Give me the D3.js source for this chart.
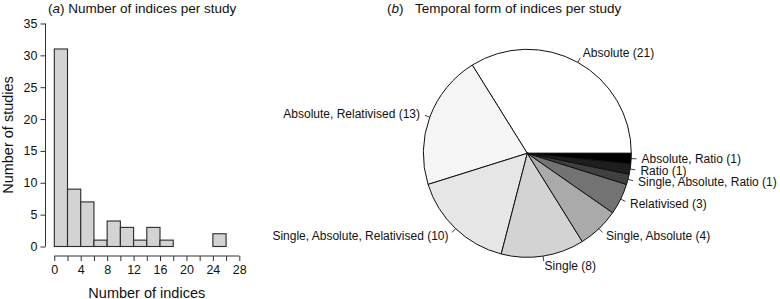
<!DOCTYPE html>
<html>
<head>
<meta charset="utf-8">
<script src="https://cdn.jsdelivr.net/npm/d3@7"></script>
<style>
  body { margin: 0; background: #fff; }
  text { font-family: "Liberation Sans", Arial, sans-serif; fill: #111; }
</style>
</head>
<body>
<div id="chart-area"></div>
<script>
// *********************
// Data
// *********************

// histogram: bins of width 2, starting at 0
const binStarts = [0, 2, 4, 6, 8, 10, 12, 14, 16, 18, 20, 22, 24];
const binCounts = [31, 9, 7, 1, 4, 3, 1, 3, 1, 0, 0, 0, 2];
const xTickValues = [0, 4, 8, 12, 16, 20, 24, 28];
const yTickValues = [0, 5, 10, 15, 20, 25, 30, 35];

// pie
const forms = ["Absolute", "Absolute, Relativised", "Single, Absolute, Relativised",
  "Single", "Single, Absolute", "Relativised", "Single, Absolute, Ratio", "Ratio", "Absolute, Ratio"];
const formCounts = [21, 13, 10, 8, 4, 3, 1, 1, 1];
const formGreys = ["#ffffff", "#f5f5f5", "#e6e6e6", "#d3d3d3", "#aaaaaa", "#737373", "#404040", "#1e1e1e", "#000000"];

// *********************
// SVG
// *********************

const width = 780;
const height = 299;

const svg = d3.select("#chart-area")
	.append("svg")
	.attr("width", width)
	.attr("height", height);

// *********************
// (a) histogram
// *********************

const x = d3.scaleLinear()
	.domain([0, 28])
	.range([54.3, 239.3]);

const y = d3.scaleLinear()
	.domain([0, 35])
	.range([246.5, 23.5]);

// bars
svg.append("g").selectAll("rect")
	.data(binStarts)
	.enter()
	.append("rect")
	.attr("x", d => x(d))
	.attr("y", (d, i) => y(binCounts[i]))
	.attr("width", d => x(d + 2) - x(d))
	.attr("height", (d, i) => y(0) - y(binCounts[i]))
	.attr("fill", "#d3d3d3")
	.attr("stroke", "#2a2a2a")
	.attr("stroke-width", 1.1);

// y axis
const yAxisGroup = svg.append("g")
	.attr("transform", "translate(45.5,0)")
	.call(d3.axisLeft(y).tickValues(yTickValues).tickSize(5).tickPadding(3));

// x axis (major labelled + minor ticks)
const xAxisGroup = svg.append("g")
	.attr("transform", "translate(0,256)")
	.call(d3.axisBottom(x).tickValues(d3.range(0, 29, 2))
		.tickFormat(d => xTickValues.includes(d) ? d : "")
		.tickSize(5).tickPadding(4));

svg.selectAll(".domain").attr("stroke", "#333");
svg.selectAll(".tick line").attr("stroke", "#333");
svg.selectAll(".tick text")
	.attr("font-size", "12.5px")
	.attr("fill", "#111")
	.attr("font-family", "Liberation Sans, Arial, sans-serif");
// plain R-style axis lines, no outer ticks
yAxisGroup.select(".domain").attr("d", "M0," + y(35) + "V" + y(0));
xAxisGroup.select(".domain").attr("d", "M" + x(0) + ",0H" + x(28));

// axis labels
svg.append("text")
	.attr("x", x(14))
	.attr("y", 297.5)
	.attr("text-anchor", "middle")
	.attr("font-size", "14.5px")
	.text("Number of indices");

svg.append("text")
	.attr("transform", "translate(13," + y(17.5) + ") rotate(-90)")
	.attr("text-anchor", "middle")
	.attr("font-size", "14.5px")
	.text("Number of studies");

// title a
const titleA = svg.append("text")
	.attr("x", 48)
	.attr("y", 12.5)
	.attr("font-size", "13.5px");
titleA.append("tspan").text("(");
titleA.append("tspan").attr("font-style", "italic").text("a");
titleA.append("tspan").text(") Number of indices per study");

// *********************
// (b) pie
// *********************

const cx = 527.3;
const cy = 153.3;
const radius = 104;

const pieGroup = svg.append("g")
	.attr("transform", "translate(" + cx + "," + cy + ")");

// R-style pie: start at 3 o'clock, counter-clockwise
const pie = d3.pie()
	.sort(null)
	.startAngle(Math.PI / 2)
	.endAngle(Math.PI / 2 - 2 * Math.PI);

const arcs = pie(formCounts);

const arc = d3.arc()
	.innerRadius(0)
	.outerRadius(radius);

pieGroup.selectAll("path")
	.data(arcs)
	.enter()
	.append("path")
	.attr("d", arc)
	.attr("fill", (d, i) => formGreys[i])
	.attr("stroke", "#111")
	.attr("stroke-width", 1);

// labels with small tick lines
arcs.forEach((d, i) => {
	const a = (d.startAngle + d.endAngle) / 2;
	const px = Math.sin(a);
	const py = -Math.cos(a);
	pieGroup.append("line")
		.attr("x1", px * radius)
		.attr("y1", py * radius)
		.attr("x2", px * radius * 1.05)
		.attr("y2", py * radius * 1.05)
		.attr("stroke", "#111")
		.attr("stroke-width", 0.8);
	pieGroup.append("text")
		.attr("x", px * radius * 1.1)
		.attr("y", py * radius * 1.1)
		.attr("dy", "0.33em")
		.attr("text-anchor", px < 0 ? "end" : "start")
		.attr("font-size", "12px")
		.text(forms[i] + " (" + formCounts[i] + ")");
});

// title b
const titleB = svg.append("text")
	.attr("x", 387)
	.attr("y", 12.5)
	.attr("font-size", "13.5px");
titleB.append("tspan").text("(");
titleB.append("tspan").attr("font-style", "italic").text("b");
titleB.append("tspan").text(")");
svg.append("text")
	.attr("x", 415)
	.attr("y", 12.5)
	.attr("font-size", "13.5px")
	.text("Temporal form of indices per study");
</script>
</body>
</html>
